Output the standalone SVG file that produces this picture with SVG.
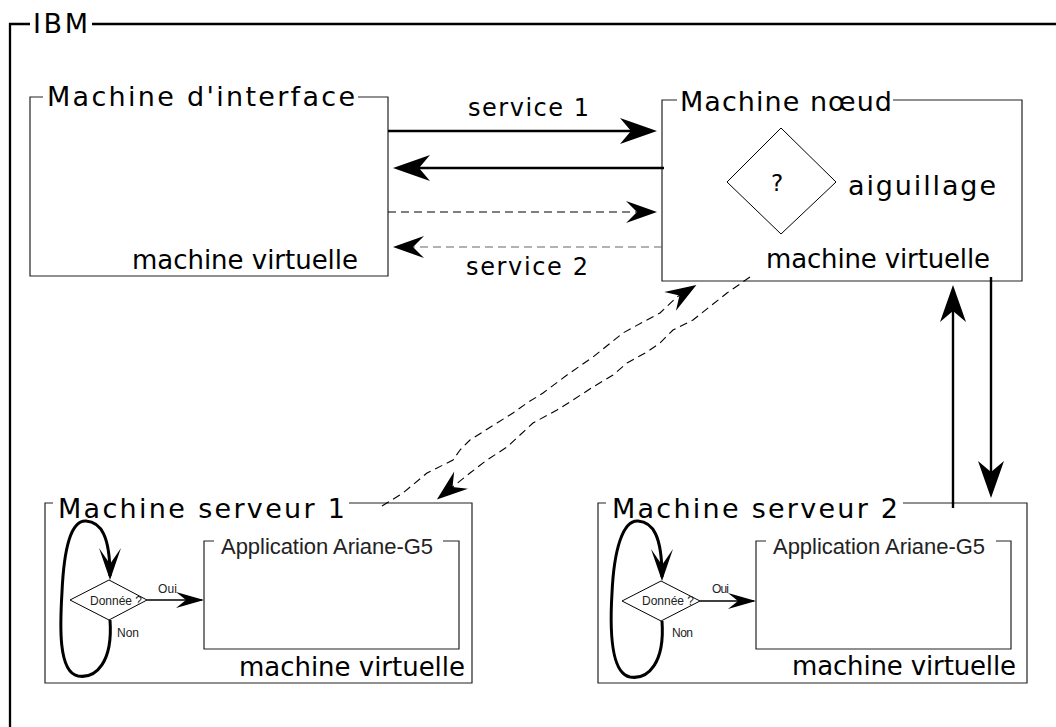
<svg xmlns="http://www.w3.org/2000/svg" width="1056" height="727" viewBox="0 0 1056 727">
<style>
.box{fill:none;stroke:#222;stroke-width:1.2}
.frame{fill:none;stroke:#000;stroke-width:2.3}
.t{font-family:"DejaVu Sans",Verdana,sans-serif;fill:#000}
.h{font-family:"Liberation Sans",Arial,sans-serif;fill:#222}
.solid{fill:none;stroke:#000;stroke-width:2.4}
.dash{fill:none;stroke:#000;stroke-width:1.1;stroke-dasharray:8 5}
.dashg{fill:none;stroke:#666;stroke-width:1.1;stroke-dasharray:8 5}
.loop{fill:none;stroke:#000;stroke-width:3}
.thin{fill:none;stroke:#000;stroke-width:1.3}
.dia{fill:#fff;stroke:#000;stroke-width:1}
</style>
<defs>
<marker id="big" markerUnits="userSpaceOnUse" viewBox="-40 -15 44 30" markerWidth="44" markerHeight="30" refX="-6" refY="0" orient="auto" overflow="visible">
<path d="M0,0 L-37,-13 L-26,0 L-37,13 Z" fill="#000"/>
</marker>
<marker id="med" markerUnits="userSpaceOnUse" viewBox="-35 -13 38 26" markerWidth="38" markerHeight="26" refX="-4" refY="0" orient="auto" overflow="visible">
<path d="M0,0 L-31,-11 L-20,0 L-31,11 Z" fill="#000"/>
</marker>
<marker id="loophead" markerUnits="userSpaceOnUse" viewBox="-35 -13 38 26" markerWidth="38" markerHeight="26" refX="-4" refY="0" orient="auto" overflow="visible">
<path d="M0,0 L-32,-11 L-16,0 L-32,11 Z" fill="#000"/>
</marker>
<marker id="small" markerUnits="userSpaceOnUse" viewBox="-30 -10 32 20" markerWidth="32" markerHeight="20" refX="-2" refY="0" orient="auto" overflow="visible">
<path d="M0,0 L-28,-8 L-18,0 L-28,8 Z" fill="#000"/>
</marker>
</defs>

<g id="ibm">
<path class="frame" d="M10,727 V24 H30 M92,24 H1056"/>
<text class="t" x="33" y="33" font-size="27" textLength="55" lengthAdjust="spacing">IBM</text>
</g>

<g id="machine-interface">
<path class="box" d="M358,97 H388 V276 H30 V97 H43"/>
<text class="t" x="47" y="106" font-size="27" textLength="308" lengthAdjust="spacing">Machine d'interface</text>
<text class="t" x="132" y="269" font-size="26" textLength="226" lengthAdjust="spacing">machine virtuelle</text>
</g>

<g id="machine-noeud">
<path class="box" d="M893,100 H1022 V281 H662 V100 H677"/>
<text class="t" x="680" y="111" font-size="27" textLength="212" lengthAdjust="spacing">Machine nœud</text>
<polygon class="dia" points="781,128 836,182 781,234 727,182"/>
<text class="t" x="771" y="191" font-size="23">?</text>
<text class="t" x="848" y="195" font-size="27" textLength="148" lengthAdjust="spacing">aiguillage</text>
<text class="t" x="766" y="268" font-size="26" textLength="224" lengthAdjust="spacing">machine virtuelle</text>
</g>

<g id="machine-serveur-1">
<path class="box" d="M349,503 H472 V683 H45 V503 H53"/>
<text class="t" x="58" y="518" font-size="27" textLength="287" lengthAdjust="spacing">Machine serveur 1</text>
<path class="box" d="M443,541 H459 V649 H204 V541 H214"/>
<text class="h" x="221" y="554" font-size="22" textLength="212" lengthAdjust="spacing">Application Ariane-G5</text>
<polygon class="dia" points="109,580 147,600 109,620 70,600"/>
<text class="h" x="90" y="605" font-size="12" textLength="52" lengthAdjust="spacing">Donnée ?</text>
<text class="h" x="158" y="593" font-size="12" textLength="19" lengthAdjust="spacing">Oui</text>
<text class="h" x="117" y="637" font-size="12" textLength="22" lengthAdjust="spacing">Non</text>
<text class="t" x="239" y="676" font-size="26" textLength="226" lengthAdjust="spacing">machine virtuelle</text>
</g>

<g id="machine-serveur-2">
<path class="box" d="M903,503 H1027 V683 H598 V503 H606"/>
<text class="t" x="612" y="518" font-size="27" textLength="286" lengthAdjust="spacing">Machine serveur 2</text>
<path class="box" d="M996,541 H1011 V649 H756 V541 H766"/>
<text class="h" x="773" y="554" font-size="22" textLength="212" lengthAdjust="spacing">Application Ariane-G5</text>
<polygon class="dia" points="661,581 700,601 661,621 622,601"/>
<text class="h" x="642" y="605" font-size="12" textLength="52" lengthAdjust="spacing">Donnée ?</text>
<text class="h" x="712" y="593" font-size="12" textLength="17" lengthAdjust="spacing">Oui</text>
<text class="h" x="672" y="637" font-size="12" textLength="21" lengthAdjust="spacing">Non</text>
<text class="t" x="792" y="675" font-size="26" textLength="224" lengthAdjust="spacing">machine virtuelle</text>
</g>

<g id="connectors">
<path class="solid" d="M388,131 H651" marker-end="url(#big)"/>
<path class="solid" d="M664,168 H399" marker-end="url(#big)"/>
<path class="dash" d="M388,212 H653" marker-end="url(#med)"/>
<path class="dashg" d="M662,247 H397" marker-end="url(#med)"/>
<text class="t" x="468" y="116" font-size="24" textLength="121" lengthAdjust="spacing">service 1</text>
<text class="t" x="466" y="275" font-size="24" textLength="122" lengthAdjust="spacing">service 2</text>
<polyline class="dash" points="382,506 403,493 427,473 453,460 460,450 470,440 497,423 513,413 527,403 543,393 567,375 593,357 623,333 643,322 660,313 677,297 693,287" marker-end="url(#med)"/>
<polyline class="dash" points="750,277 727,293 693,320 673,330 660,343 647,352 627,363 613,375 593,387 573,400 557,410 533,423 507,447 487,460 470,473 440,497" marker-end="url(#med)"/>
<path class="solid" stroke-width="2" d="M953,508 V291" marker-end="url(#big)"/>
<path class="solid" stroke-width="2" d="M991,277 V492" marker-end="url(#big)"/>
<path class="loop" d="M110,620 C113,662 96,679 78,676 C58,672 60,625 62,592 C64,548 71,520 86,521 C101,522 110,536 110,576" marker-end="url(#loophead)"/>
<path class="thin" d="M147,600 H202" marker-end="url(#small)"/>
<path class="loop" d="M662,621 C665,663 648,680 630,677 C610,673 610,626 612,593 C614,549 623,520 638,521 C653,522 662,536 662,577" marker-end="url(#loophead)"/>
<path class="thin" d="M700,601 H754" marker-end="url(#small)"/>
</g>
</svg>
